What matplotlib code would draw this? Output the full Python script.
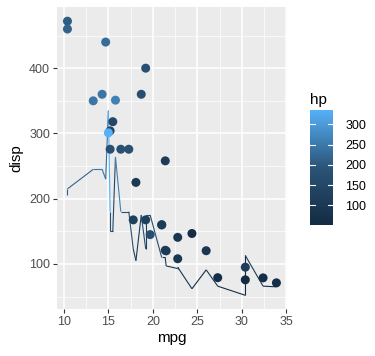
import numpy as np
import matplotlib
matplotlib.use('Agg')
import matplotlib.pyplot as plt
from matplotlib.colors import LinearSegmentedColormap, Normalize
from matplotlib.collections import LineCollection

plt.rcParams['font.family'] = ['Liberation Sans', 'DejaVu Sans']

# mtcars, in data order
mpg = [21.0, 21.0, 22.8, 21.4, 18.7, 18.1, 14.3, 24.4, 22.8, 19.2, 17.8, 16.4, 17.3, 15.2, 10.4, 10.4,
       14.7, 32.4, 30.4, 33.9, 21.5, 15.5, 15.2, 13.3, 19.2, 27.3, 26.0, 30.4, 15.8, 19.7, 15.0, 21.4]
disp = [160, 160, 108, 258, 360, 225, 360, 146.7, 140.8, 167.6, 167.6, 275.8, 275.8, 275.8, 472, 460,
        440, 78.7, 75.7, 71.1, 120.1, 318, 304, 350, 400, 79, 120.3, 95.1, 351, 145, 301, 121]
hp = [110, 110, 93, 110, 175, 105, 245, 62, 95, 123, 123, 180, 180, 180, 205, 215,
      230, 66, 52, 65, 97, 150, 150, 245, 175, 66, 91, 113, 264, 175, 335, 109]

cmap = LinearSegmentedColormap.from_list('gg', ['#132B43', '#2B5477', '#56B1F7'])
norm = Normalize(vmin=min(hp), vmax=max(hp))

fig = plt.figure(figsize=(3.75, 3.56), dpi=100)
ax = fig.add_axes([0.152, 0.132, 0.613, 0.847])
ax.set_facecolor('#EBEBEB')

# line: hp against mpg, sorted by mpg (stable), each segment coloured by its start
order = np.argsort(mpg, kind='stable')
xs = np.array(mpg)[order]
ys = np.array(hp)[order]
segs = [[(xs[i], ys[i]), (xs[i + 1], ys[i + 1])] for i in range(len(xs) - 1)]
lc = LineCollection(segs, colors=cmap(norm(ys[:-1])), linewidths=0.8, zorder=3)
ax.add_collection(lc)

ax.scatter(mpg, disp, c=hp, cmap=cmap, norm=norm, s=42, edgecolors='none', zorder=4)

ax.set_xlim(9.225, 35.075)
ax.set_ylim(31, 493)
ax.set_xticks([10, 15, 20, 25, 30, 35])
ax.set_yticks([100, 200, 300, 400])
ax.set_xticks([12.5, 17.5, 22.5, 27.5, 32.5], minor=True)
ax.set_yticks([50, 150, 250, 350, 450], minor=True)
ax.grid(which='major', color='white', linewidth=1.1, zorder=0)
ax.grid(which='minor', color='white', linewidth=0.5, zorder=0)
ax.set_axisbelow(True)
for s in ax.spines.values():
    s.set_visible(False)
ax.tick_params(which='major', colors='#333333', labelcolor='#4D4D4D', labelsize=9, length=3, width=0.8, pad=2)
ax.tick_params(which='minor', length=0)
ax.set_xlabel('mpg', fontsize=11, labelpad=2)
ax.set_ylabel('disp', fontsize=11, labelpad=4)

cax = fig.add_axes([0.827, 0.368, 0.061, 0.323])
cb = fig.colorbar(plt.cm.ScalarMappable(norm=norm, cmap=cmap), cax=cax, ticks=[100, 150, 200, 250, 300])
cb.outline.set_visible(False)
cax.tick_params(labelsize=9, length=0, labelcolor='black', pad=9)
for t in [100, 150, 200, 250, 300]:
    cax.plot([0, 0.2], [t, t], color='white', lw=0.8, transform=cax.get_yaxis_transform())
    cax.plot([0.8, 1.0], [t, t], color='white', lw=0.8, transform=cax.get_yaxis_transform())
fig.text(0.827, 0.7, 'hp', fontsize=11, ha='left', va='bottom')

fig.savefig('out.png', dpi=100)
